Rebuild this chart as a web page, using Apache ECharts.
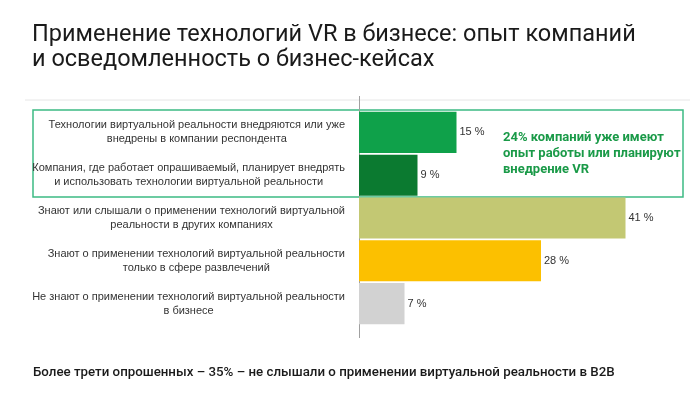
<!DOCTYPE html>
<html>
<head>
<meta charset="utf-8">
<script src="https://cdn.jsdelivr.net/npm/echarts@6/dist/echarts.min.js"></script>
<style>
  html, body { margin: 0; padding: 0; background: #fff; }
  #chart { width: 700px; height: 396px; }
</style>
</head>
<body>
<div id="chart"></div>
<script>
// данные
var categories = [
	'Технологии виртуальной реальности внедряются или уже\nвнедрены в компании респондента',
	'Компания, где работает опрашиваемый, планирует внедрять\nи использовать технологии виртуальной реальности',
	'Знают или слышали о применении технологий виртуальной\nреальности в других компаниях',
	'Знают о применении технологий виртуальной реальности\nтолько в сфере развлечений',
	'Не знают о применении технологий виртуальной реальности\nв бизнесе'
];
var values = [15, 9, 41, 28, 7];
var barColors = ['#0fa14a', '#0b7a30', '#c3c873', '#fcc000', '#d2d2d2'];

var titleText = 'Применение технологий VR в бизнесе: опыт компаний\nи осведомленность о бизнес-кейсах';
var noteText = '24% компаний уже имеют\nопыт работы или планируют\nвнедрение VR';
var footerText = 'Более трети опрошенных – 35% – не слышали о применении виртуальной реальности в B2B';

var myChart = echarts.init(document.getElementById('chart'));

var option = {
	animation: false,
	backgroundColor: '#fff',
	title: [{
		text: titleText,
		left: 27,
		top: 18,
		textStyle: {
			fontFamily: 'Roboto',
			fontSize: 23.5,
			fontWeight: 'normal',
			color: '#1a1a1a',
			lineHeight: 25
		}
	}, {
		text: noteText,
		left: 498,
		top: 125,
		textStyle: {
			fontFamily: 'Roboto',
			fontSize: 13,
			fontWeight: 'bold',
			color: '#1a9a48',
			lineHeight: 16
		}
	}, {
		text: footerText,
		left: 28,
		top: 361,
		textStyle: {
			fontFamily: 'Roboto',
			fontSize: 13.3,
			fontWeight: 500,
			color: '#1a1a1a'
		}
	}],
	grid: {
		left: 359,
		top: 111,
		width: 325,
		height: 214
	},
	xAxis: {
		type: 'value',
		min: 0,
		max: 50,
		show: false
	},
	yAxis: {
		type: 'category',
		inverse: true,
		data: categories,
		axisLine: { show: false },
		axisTick: { show: false },
		axisLabel: {
			margin: 14,
			align: 'right',
			fontFamily: 'Liberation Sans',
			fontSize: 11,
			color: '#333',
			lineHeight: 14,
			formatter: function (value) {
				return value.split('\n').map(function (s) {
					return '{a|' + s + '}';
				}).join('\n');
			},
			rich: {
				a: {
					align: 'center',
					fontFamily: 'Liberation Sans',
					fontSize: 11,
					color: '#333',
					lineHeight: 14
				}
			}
		}
	},
	series: [{
		type: 'bar',
		barCategoryGap: '4%',
		data: values.map(function (v, i) {
			return { value: v, itemStyle: { color: barColors[i] } };
		}),
		label: {
			show: true,
			position: 'right',
			distance: 3,
			fontFamily: 'Liberation Sans',
			fontSize: 11,
			color: '#333',
			formatter: '{c} %'
		}
	}],
	graphic: [{
		type: 'line',
		shape: { x1: 25, y1: 100, x2: 690, y2: 100 },
		style: { stroke: '#e6e6e6', lineWidth: 1 },
		z: 1
	}, {
		type: 'line',
		shape: { x1: 359.5, y1: 96, x2: 359.5, y2: 338 },
		style: { stroke: '#a0a0a0', lineWidth: 1 },
		z: 1
	}, {
		type: 'rect',
		shape: { x: 33, y: 110, width: 650, height: 87 },
		style: { fill: 'none', stroke: '#3dbb84', lineWidth: 1.5 },
		z: 0
	}]
};
myChart.setOption(option);
</script>
</body>
</html>
